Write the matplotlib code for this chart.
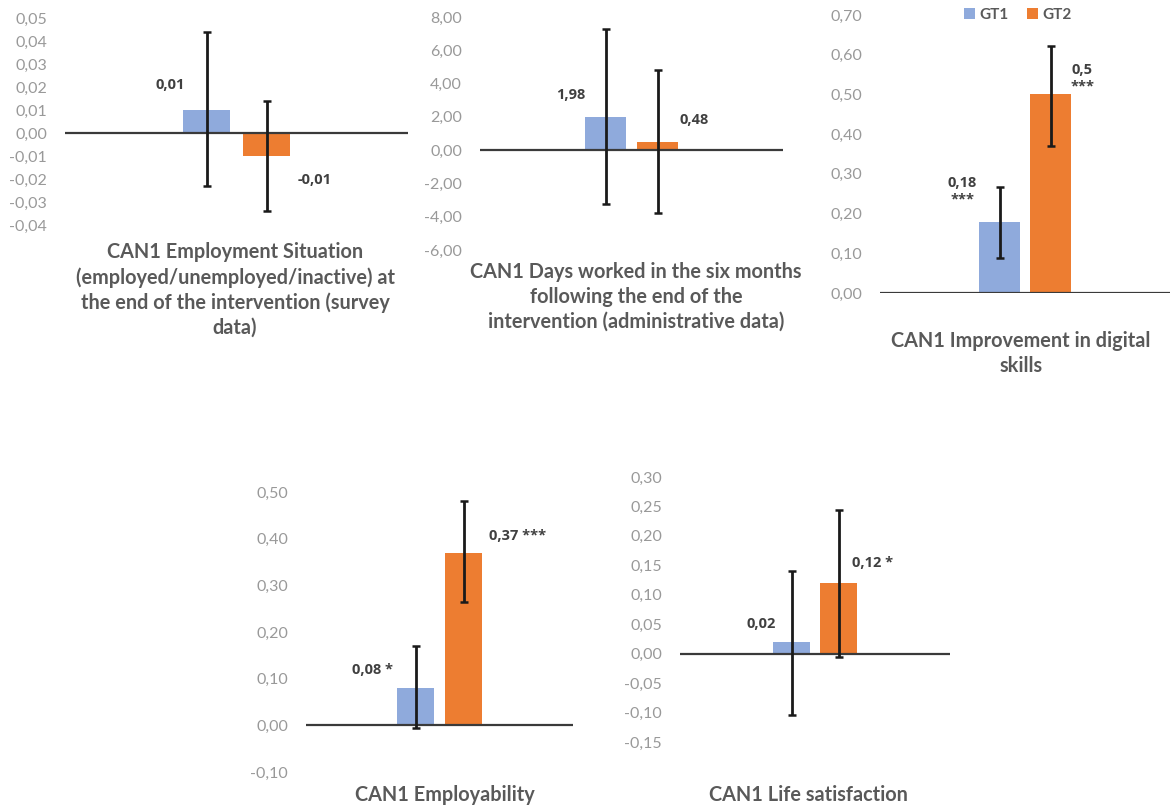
import matplotlib
matplotlib.use("Agg")
import numpy as np
import matplotlib.pyplot as plt

plt.rcParams["font.family"] = ["Lato", "DejaVu Sans"]

W, H = 1172, 809

# ── data ─────────────────────────────────────────────────────────────────────
titles = [
    "CAN1 Employment Situation\n(employed/unemployed/inactive) at\nthe end of the intervention (survey\ndata)",
    "CAN1 Days worked in the six months\nfollowing the end of the\nintervention (administrative data)",
    "CAN1 Improvement in digital\nskills",
    "CAN1 Employability",
    "CAN1 Life satisfaction",
]
gt1_vals = [0.01, 1.98, 0.18, 0.08, 0.02]
gt2_vals = [-0.01, 0.48, 0.50, 0.37, 0.12]
gt1_low = [-0.023, -3.25, 0.087, -0.005, -0.104]
gt1_high = [0.044, 7.29, 0.268, 0.169, 0.140]
gt2_low = [-0.034, -3.75, 0.371, 0.264, -0.006]
gt2_high = [0.014, 4.79, 0.623, 0.481, 0.244]
gt1_labels = ["0,01", "1,98", "0,18\n***", "0,08 *", "0,02"]
gt2_labels = ["-0,01", "0,48", "0,5\n***", "0,37 ***", "0,12 *"]
y_ranges = [(-0.04, 0.05, 0.01), (-6, 8, 2), (0, 0.7, 0.1),
            (-0.10, 0.50, 0.10), (-0.15, 0.30, 0.05)]

BLUE, ORANGE = "#8faadc", "#ed7d31"
TICK_C, TITLE_C, LAB_C = "#999999", "#595959", "#404040"

# ── layout (pixels): axis left/right/top/bottom, bar width, gap ──────────────
boxes = [(65, 408, 18, 225), (480, 783, 17, 250), (880, 1170, 15, 293),
         (306, 573, 492, 772), (680, 950, 477, 742)]
bar_px = [47, 41, 41, 37, 37]
gap_px = [13, 11, 10, 11, 10]
title_pos = [(235, 242), (636, 262), (1021, 331), (445, 785), (808, 785)]
# label offsets (pixels) from bar top
off1 = [(-36, 25), (-35, 22), (-37, 30), (-43, 18), (-30, 18)]
off2 = [(48, -24), (37, 22), (32, 16), (54, 17), (34, 20)]

fig = plt.figure(figsize=(W / 100, H / 100), dpi=100)

for i in range(5):
    l, r, t, b = boxes[i]
    ax = fig.add_axes([l / W, 1 - b / H, (r - l) / W, (b - t) / H])
    aw = r - l
    bw = bar_px[i] / aw
    g = gap_px[i] / aw
    x1, x2 = -(bw + g) / 2, (bw + g) / 2

    ax.bar(x1, gt1_vals[i], width=bw, color=BLUE, label="GT1", zorder=2)
    ax.bar(x2, gt2_vals[i], width=bw, color=ORANGE, label="GT2", zorder=2)
    for x, v, lo, hi in [(x1, gt1_vals[i], gt1_low[i], gt1_high[i]),
                         (x2, gt2_vals[i], gt2_low[i], gt2_high[i])]:
        ax.errorbar(x, v, yerr=[[v - lo], [hi - v]], fmt="none", ecolor="#1a1a1a",
                    elinewidth=2, capsize=3, capthick=1.8, zorder=4)
    ax.axhline(0, color="#3a3a3a", lw=1.6, zorder=3)

    for x, v, txt, off in [(x1, gt1_vals[i], gt1_labels[i], off1[i]),
                           (x2, gt2_vals[i], gt2_labels[i], off2[i])]:
        ax.annotate(txt, xy=(x, v), xytext=off, textcoords="offset pixels",
                    ha="center", va="center", fontsize=10.5, fontweight="bold",
                    color=LAB_C, linespacing=1.25,
                    family=["Open Sans", "DejaVu Sans"])

    lo, hi, step = y_ranges[i]
    ticks = np.arange(lo, hi + step / 2, step)
    ax.set_ylim(lo, hi)
    ax.set_xlim(-0.5, 0.5)
    ax.set_yticks(ticks)
    ax.set_yticklabels([f"{v:.2f}".replace(".", ",").replace("-0,00", "0,00")
                        for v in ticks])
    ax.tick_params(axis="y", length=0, pad=13, labelsize=11.5, labelcolor=TICK_C)
    ax.set_xticks([])
    for s in ax.spines.values():
        s.set_visible(False)
    ax.patch.set_alpha(0)

    tx, ty = title_pos[i]
    fig.text(tx / W, 1 - ty / H, titles[i], ha="center", va="top",
             fontsize=14.3, fontweight="bold", color=TITLE_C, linespacing=1.3)

    if i == 2:
        ax.legend(loc="center", bbox_to_anchor=(1018 / W, 1 - 15 / H),
                  bbox_transform=fig.transFigure, ncol=2, frameon=False,
                  handlelength=0.7, handleheight=0.7, handletextpad=0.3,
                  columnspacing=1.2, prop={"size": 11, "weight": "bold"},
                  labelcolor=TITLE_C)

fig.savefig("out.png", dpi=100, facecolor="white")
